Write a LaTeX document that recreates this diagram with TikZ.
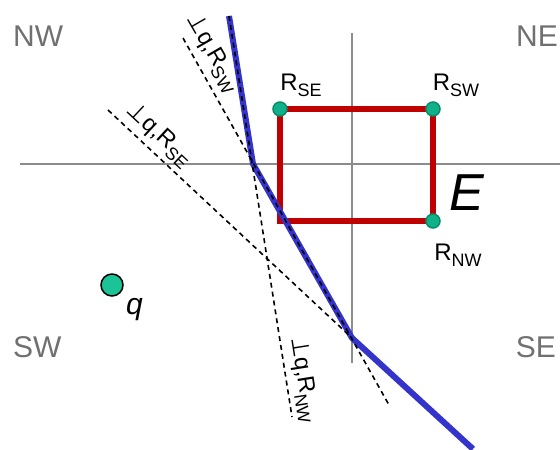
\documentclass[tikz,border=0pt]{standalone}
\usepackage{fontspec}
\setmainfont{Liberation Sans}
\newfontfamily\djv{DejaVu Sans}
\definecolor{axisgray}{RGB}{140,140,140}
\definecolor{txtgray}{RGB}{112,112,112}
\definecolor{rectred}{RGB}{192,0,0}
\definecolor{pathblue}{RGB}{52,52,204}
\definecolor{dotgreen}{RGB}{16,176,136}
\definecolor{dotedge}{RGB}{10,140,105}
\definecolor{qgreen}{RGB}{26,196,150}
\newcommand\sbs[1]{\raisebox{-0.25em}{\scalebox{0.75}{#1}}}
\tikzset{
  axis/.style={draw=axisgray, line width=1.8pt},
  region/.style={text=txtgray, inner sep=0pt, font=\fontsize{30}{30}\selectfont},
  rlab/.style={inner sep=0pt, font=\fontsize{24}{24}\selectfont},
  perplab/.style={inner sep=0pt, font=\fontsize{23.5}{24}\selectfont},
  bisect/.style={draw=black, line width=1.6pt, dash pattern=on 5pt off 4pt},
  corner/.style={circle, fill=dotgreen, draw=dotedge, line width=1.5pt, minimum size=14pt, inner sep=0pt},
}
\begin{document}
\begin{tikzpicture}[x=1pt, y=-1pt]
\useasboundingbox (0,0) rectangle (560,450);
% axes
\coordinate (hl) at (20,164);
\coordinate (hr) at (560,164);
\coordinate (vt) at (352,33);
\coordinate (vb) at (352,363);
\draw[axis] (hl) -- (hr);
\draw[axis] (vt) -- (vb);
% region labels
\node[region, anchor=base west] (nw) at (13,46) {NW};
\node[region, anchor=base east] (ne) at (558,46) {NE};
\node[region, anchor=base west] (sw) at (13,357) {SW};
\node[region, anchor=base east] (se) at (556,357) {SE};
% rectangle
\coordinate (c1) at (280,109);
\coordinate (c2) at (433,109);
\coordinate (c3) at (433,221);
\coordinate (c4) at (280,221);
\draw[rectred, line width=6pt, line join=miter] (c1) -- (c2) -- (c3) -- (c4) -- cycle;
% blue path
\coordinate (b0) at (229,16);
\coordinate (b1) at (253,164);
\coordinate (b2) at (352,338);
\coordinate (b3) at (473,449);
\draw[pathblue, line width=6pt, line join=round] (b0) -- (b1) -- (b2) -- (b3);
% bisectors
\coordinate (nwend) at (292,417);
\coordinate (swstart) at (183,38);
\coordinate (swend) at (389,405);
\coordinate (sestart) at (108,110);
\draw[bisect] (b0) -- (nwend);
\draw[bisect] (swstart) -- (swend);
\draw[bisect] (sestart) -- (b2);
% bisector labels
\node[perplab, rotate=-60] (lsw) at (212,53) {{\djv ⊥}q,R\sbs{SW}};
\node[perplab, rotate=-43] (lse) at (159,135) {{\djv ⊥}q,R\sbs{SE}};
\node[perplab, rotate=-81] (lnw) at (303,380) {{\djv ⊥}q,R\sbs{NW}};
% corner dots
\node[corner] (rse) at (c1) {};
\node[corner] (rsw) at (c2) {};
\node[corner] (rnw) at (c3) {};
\node[rlab, anchor=base] (trse) at (301,90) {R\sbs{SE}};
\node[rlab, anchor=base] (trsw) at (456,90) {R\sbs{SW}};
\node[rlab, anchor=base] (trnw) at (458,260) {R\sbs{NW}};
\node[inner sep=0pt, anchor=base west, font=\fontsize{52}{52}\selectfont\itshape] (e) at (449,210) {E};
% q
\node[circle, fill=qgreen, draw=black, line width=1.5pt, minimum size=22pt, inner sep=0pt] (qd) at (112,285) {};
\node[inner sep=0pt, anchor=base west, font=\fontsize{30}{30}\selectfont\itshape] (q) at (126,314) {q};
\end{tikzpicture}
\end{document}
